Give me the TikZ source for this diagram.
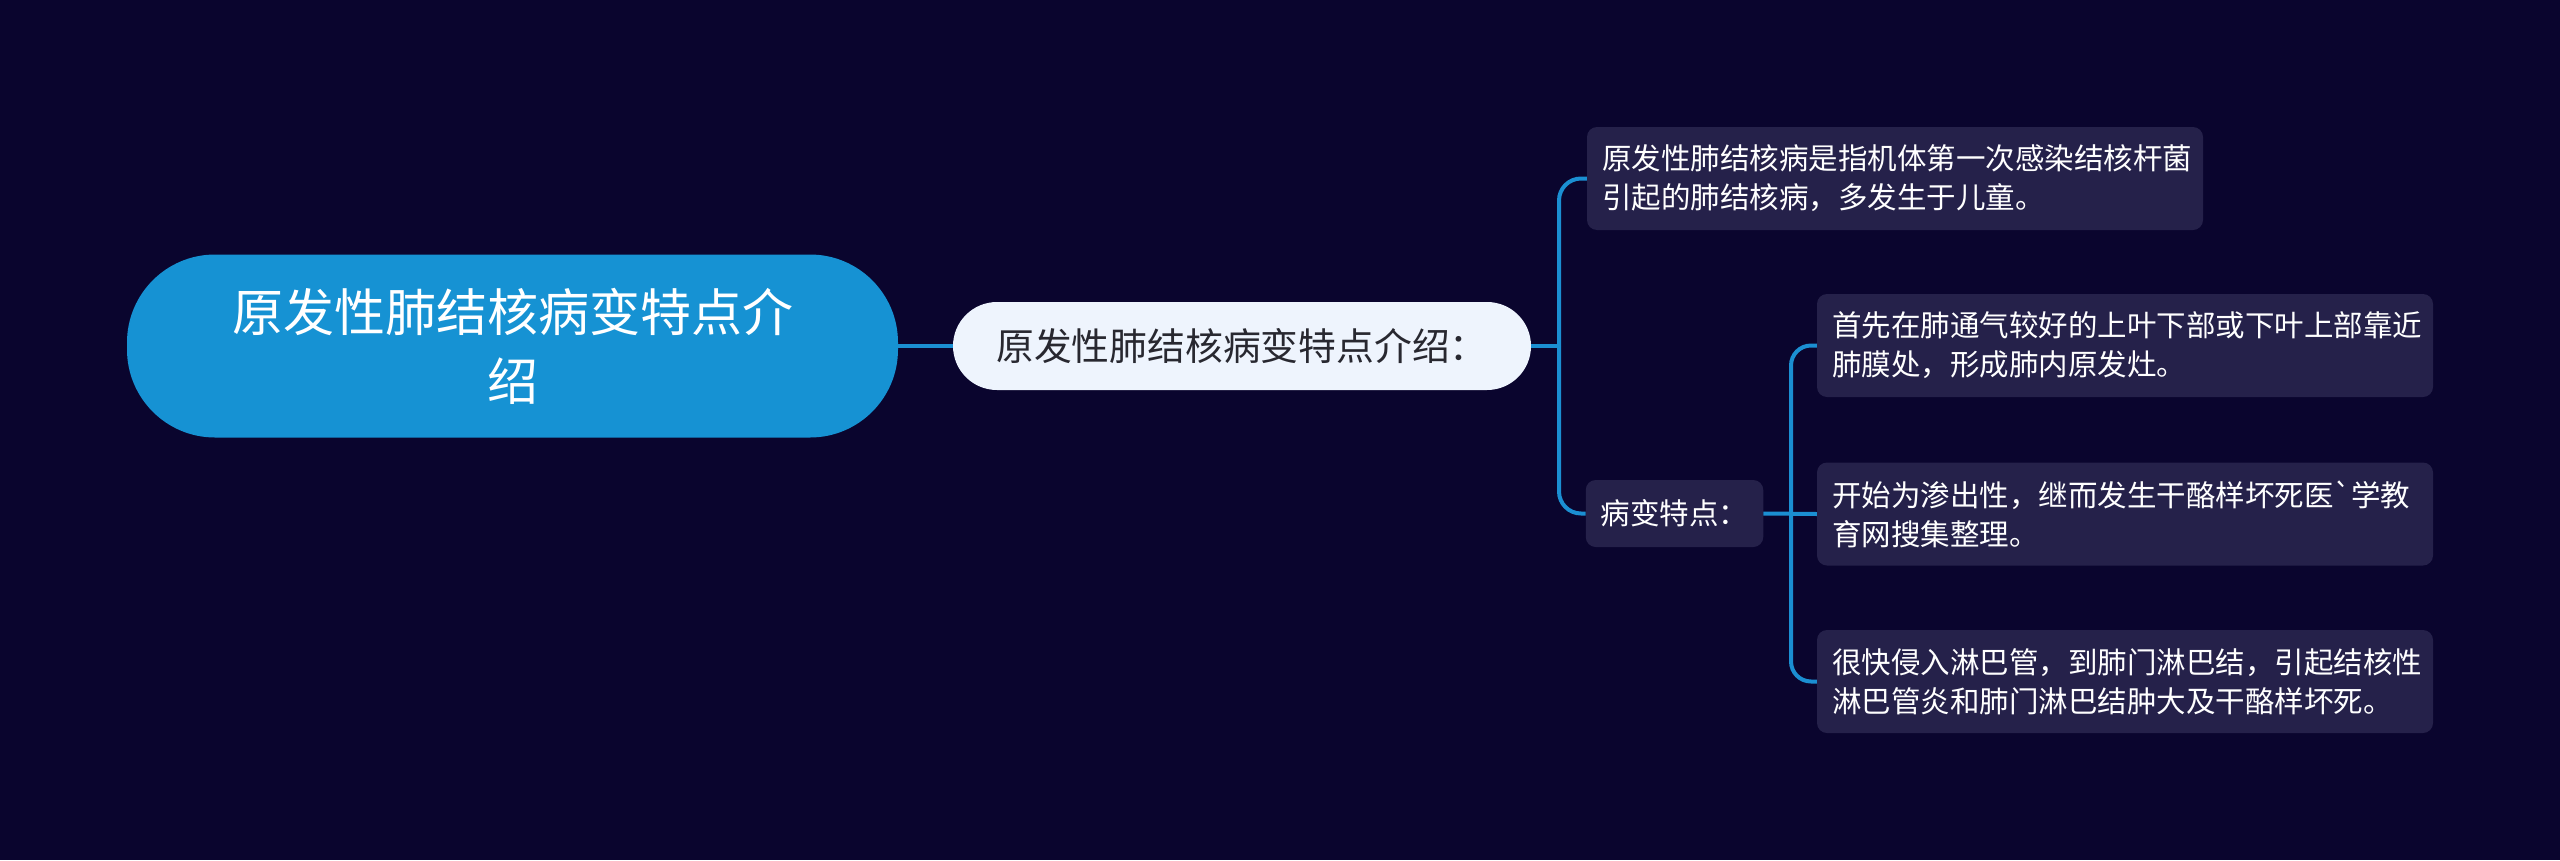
\documentclass[tikz,border=0pt]{standalone}
\usepackage{fontspec}
\newfontfamily\cjk{Noto Sans CJK SC}[Ligatures=ResetAll]
\definecolor{bg}{RGB}{10,5,46}
\definecolor{darkbox}{RGB}{37,33,74}
\definecolor{linkblue}{RGB}{27,143,210}
\definecolor{rootblue}{RGB}{22,146,211}
\definecolor{lightbox}{RGB}{238,244,253}
\definecolor{darktext}{RGB}{40,40,48}
\tikzset{
  rootnode/.style={fill=rootblue, rounded corners=88pt, minimum width=771pt, minimum height=183pt,
    text=white, align=center, inner sep=0pt, font=\cjk\fontsize{51}{69}\selectfont},
  levelone/.style={fill=lightbox, rounded corners=44pt, minimum width=578pt, minimum height=88pt,
    text=darktext, align=center, inner sep=0pt, font=\cjk\fontsize{37.8}{46}\selectfont},
  leafbox/.style={fill=darkbox, rounded corners=10pt, text width=586pt, inner xsep=15pt, inner ysep=0pt,
    minimum height=103pt, text=white, align=left, font=\cjk\fontsize{29.5}{39}\selectfont},
  smallbox/.style={fill=darkbox, rounded corners=10pt, inner xsep=15pt, inner ysep=0pt,
    minimum width=175pt, minimum height=67pt, text=white, align=left, font=\cjk\fontsize{29.5}{39}\selectfont},
  conn/.style={draw=linkblue, line width=4pt}
}
\begin{document}
\begin{tikzpicture}[x=1pt,y=-1pt]
\path[fill=bg,use as bounding box] (0,0) rectangle (2560,860);
\node[rootnode] (root) at (512.5,346) {原发性肺结核病变特点介\\绍};
\node[levelone] (L1) at (1242,346) {原发性肺结核病变特点介绍：};
\node[leafbox] (A) at (1895,178.5) {原发性肺结核病是指机体第一次感染结核杆菌\\引起的肺结核病，多发生于儿童。};
\node[smallbox] (B) at (1674.5,513.5) {病变特点：};
\node[leafbox] (C1) at (2125,345.5) {首先在肺通气较好的上叶下部或下叶上部靠近\\肺膜处，形成肺内原发灶。};
\node[leafbox] (C2) at (2125,514) {开始为渗出性，继而发生干酪样坏死医`学教\\育网搜集整理。};
\node[leafbox] (C3) at (2125,681.5) {很快侵入淋巴管，到肺门淋巴结，引起结核性\\淋巴管炎和肺门淋巴结肿大及干酪样坏死。};
\coordinate (j1) at (1559,346);
\coordinate (j2) at (1791,513.5);
\draw[conn] (root.east) -- (L1.west);
\draw[conn] (L1.east) -- (j1);
\draw[conn, rounded corners=22pt] (j1) |- (A.west);
\draw[conn, rounded corners=22pt] (j1) |- (B.west);
\draw[conn] (B.east) -- (C2.west);
\draw[conn, rounded corners=20pt] (j2) |- (C1.west);
\draw[conn, rounded corners=20pt] (j2) |- (C3.west);
\end{tikzpicture}
\end{document}
